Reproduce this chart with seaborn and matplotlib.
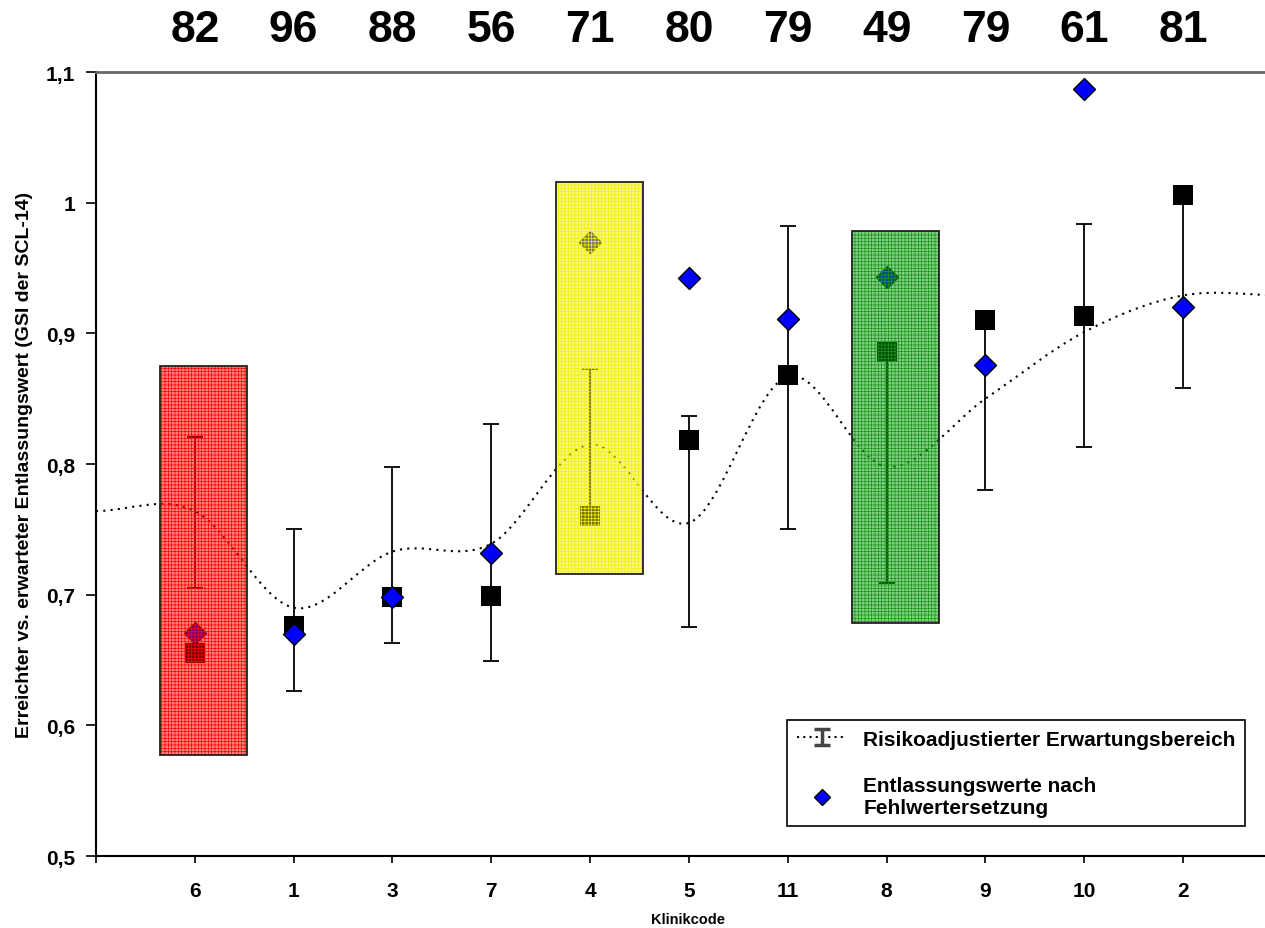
import numpy as np
import pandas as pd
import matplotlib
matplotlib.use('Agg')
import matplotlib.pyplot as plt
from matplotlib.patches import Rectangle, PathPatch
from matplotlib.path import Path
from matplotlib.lines import Line2D
from matplotlib.ticker import FuncFormatter
import seaborn as sns

# Daten
klinik = ['6', '1', '3', '7', '4', '5', '11', '8', '9', '10', '2']
n_faelle = [82, 96, 88, 56, 71, 80, 79, 49, 79, 61, 81]
erwartet = [0.655, 0.676, 0.698, 0.699, 0.760, 0.818, 0.868, 0.886, 0.910, 0.913, 1.006]
entlassung = [0.671, 0.670, 0.698, 0.732, 0.970, 0.942, 0.911, 0.943, 0.876, 1.087, 0.920]
bereich_unten = [0.705, 0.626, 0.663, 0.649, 0.760, 0.675, 0.750, 0.709, 0.780, 0.813, 0.858]
bereich_oben = [0.821, 0.750, 0.798, 0.831, 0.873, 0.837, 0.982, 0.886, 0.917, 0.984, 1.000]
# Trendlinie inkl. Randpunkte links und rechts
trend = [0.764, 0.764, 0.690, 0.733, 0.739, 0.815, 0.755, 0.867, 0.798, 0.850, 0.901, 0.929, 0.929]

# markierte Kliniken
markiert = ['6', '4', '8']
mark_unten = [0.577, 0.716, 0.678]
mark_oben = [0.875, 1.016, 0.978]
mark_farbe = ['#ff0000', '#f0f000', '#119911']

sns.set_style('ticks')
plt.rcParams['font.family'] = ['Liberation Sans', 'DejaVu Sans']
plt.rcParams['hatch.linewidth'] = 0.5
plt.rcParams['text.color'] = 'black'
plt.rcParams['axes.labelcolor'] = 'black'
plt.rcParams['xtick.color'] = 'black'
plt.rcParams['ytick.color'] = 'black'

pos = np.arange(1, len(klinik) + 1)
df = pd.DataFrame({'pos': pos, 'klinik': klinik, 'erwartet': erwartet,
                   'entlassung': entlassung,
                   'unten': bereich_unten, 'oben': bereich_oben})

fig = plt.figure(figsize=(12.65, 9.29), dpi=100)
ax = fig.add_axes([0.0759, 0.0775, 0.9375, 0.8439])

# geglättete Trendlinie (Bezier durch die Punkte)
tx = np.arange(len(trend), dtype=float)
ty = np.array(trend)
verts = [(tx[0], ty[0])]
codes = [Path.MOVETO]
for i in range(len(tx) - 1):
    y_prev = ty[i - 1] if i > 0 else ty[i]
    y_next = ty[i + 2] if i + 2 < len(ty) else ty[i + 1]
    verts.append((tx[i] + 1 / 3, ty[i] + (ty[i + 1] - y_prev) / 6))
    verts.append((tx[i + 1] - 1 / 3, ty[i + 1] - (y_next - ty[i]) / 6))
    verts.append((tx[i + 1], ty[i + 1]))
    codes += [Path.CURVE4] * 3
ax.add_patch(PathPatch(Path(verts, codes), fill=False, edgecolor='black',
                       lw=1.5, ls=(0, (1, 2.5)), zorder=1))

# Erwartungsbereich
ax.errorbar(df['pos'], (df['unten'] + df['oben']) / 2, yerr=(df['oben'] - df['unten']) / 2,
            fmt='none', ecolor='black', elinewidth=1.3, capsize=6, capthick=1.3, zorder=2)

sns.scatterplot(data=df, x='pos', y='erwartet', marker='s', s=225, color='black',
                linewidth=0, ax=ax, zorder=3, legend=False)
sns.scatterplot(data=df, x='pos', y='entlassung', marker='D', s=125, color='#0000ff',
                edgecolor='black', linewidth=1, ax=ax, zorder=4, legend=False)

# farbige Rechtecke (Gittermuster, dahinter liegende Punkte scheinen durch)
for k, lo, hi, col in zip(markiert, mark_unten, mark_oben, mark_farbe):
    p = klinik.index(k) + 1
    ax.add_patch(Rectangle((p - 0.35, lo), 0.88, hi - lo, facecolor=col, alpha=0.5,
                           edgecolor='none', zorder=5))
    ax.add_patch(Rectangle((p - 0.35, lo), 0.88, hi - lo, fill=False, hatch='+++++',
                           edgecolor=col, lw=0, zorder=6))
    ax.add_patch(Rectangle((p - 0.35, lo), 0.88, hi - lo, fill=False,
                           edgecolor='#222222', lw=1.3, zorder=7))

# Fallzahlen oben
for p, n in zip(pos, n_faelle):
    ax.text(p, 1.054, str(n), transform=ax.get_xaxis_transform(), ha='center',
            va='center', fontsize=32, fontweight='bold')

ax.set_xlim(0, 12)
ax.set_ylim(0.5, 1.1)
ax.set_xticks(np.arange(0, 13))
ax.set_xticklabels([''] + klinik + [''])
ax.set_yticks(np.arange(0.5, 1.15, 0.1))
ax.yaxis.set_major_formatter(FuncFormatter(lambda v, _: f'{v:.1f}'.rstrip('0').rstrip('.').replace('.', ',')))
ax.tick_params(axis='both', direction='out', width=1.2, labelsize=15, colors='black')
ax.tick_params(axis='x', length=5, pad=13)
ax.tick_params(axis='y', length=7, pad=8)
for lab in ax.get_xticklabels() + ax.get_yticklabels():
    lab.set_fontweight('bold')

ax.set_xlabel('Klinikcode', fontsize=10.5, fontweight='bold')
ax.xaxis.set_label_coords(0.4995, -0.0715)
ax.set_ylabel('Erreichter vs. erwarteter Entlassungswert (GSI der SCL-14)',
              fontsize=14, fontweight='bold')
ax.yaxis.set_label_coords(-0.053, 0.5)

for s in ['left', 'bottom']:
    ax.spines[s].set_color('black')
    ax.spines[s].set_linewidth(1.5)
ax.spines['top'].set_visible(True)
ax.spines['top'].set_color('#666666')
ax.spines['top'].set_linewidth(2)
ax.spines['right'].set_visible(False)

# Legende
bar_path = Path([(-0.5, -0.5), (0.5, -0.5), (0, -0.5), (0, 0.5), (-0.5, 0.5), (0.5, 0.5)],
                [Path.MOVETO, Path.LINETO, Path.MOVETO, Path.LINETO, Path.MOVETO, Path.LINETO])
h1 = Line2D([], [], color='black', ls=(0, (1, 2)), lw=1.5, marker=bar_path, markersize=11,
            markeredgecolor='#444444', markeredgewidth=2.5)
h2 = Line2D([], [], ls='none', marker='D', markersize=8, markerfacecolor='#0000ff',
            markeredgecolor='black')
leg = ax.legend([h1, h2], ['Risikoadjustierter Erwartungsbereich',
                           'Entlassungswerte nach\nFehlwertersetzung'],
                loc='lower left', bbox_to_anchor=(0.583, 0.038), borderaxespad=0,
                frameon=True, fancybox=False, edgecolor='black', framealpha=1,
                prop={'weight': 'bold', 'size': 15}, labelspacing=1.3,
                handlelength=2.4, numpoints=1, borderpad=0.45, handletextpad=0.8)
leg.get_frame().set_linewidth(1.2)
leg.set_zorder(10)

fig.savefig('out.png', dpi=100)
